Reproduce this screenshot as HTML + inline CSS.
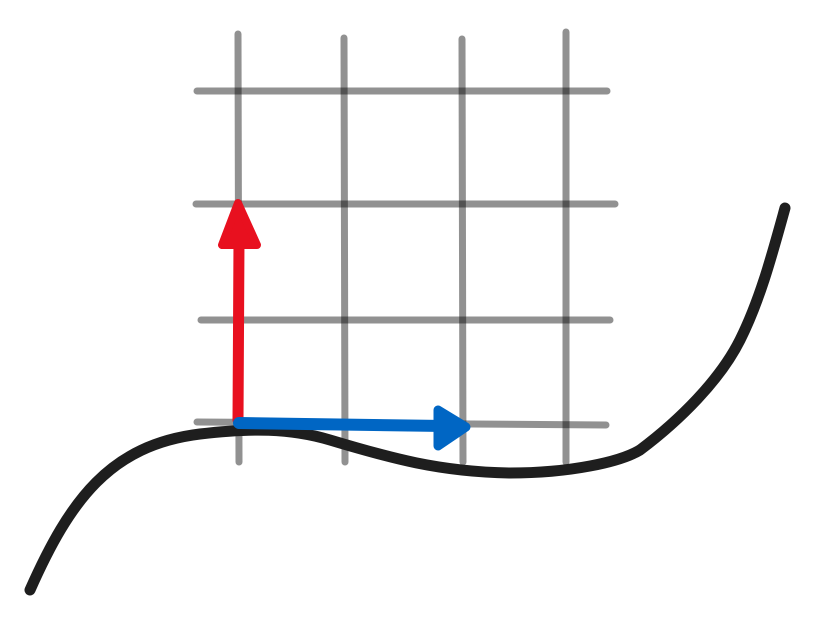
<!DOCTYPE html>
<html><head><meta charset="utf-8"><style>html,body{margin:0;padding:0;background:#fff;width:838px;height:624px;overflow:hidden}</style></head>
<body>
<svg width="838" height="624" viewBox="0 0 838 624">
<g stroke="#000" stroke-opacity="0.43" stroke-width="7" stroke-linecap="round">
<line x1="238" y1="34" x2="239" y2="462"/>
<line x1="344" y1="38" x2="345" y2="462"/>
<line x1="462" y1="39" x2="463" y2="462"/>
<line x1="566" y1="32" x2="566" y2="462"/>
<line x1="197" y1="91" x2="607" y2="91"/>
<line x1="196" y1="204" x2="615" y2="204"/>
<line x1="201" y1="320" x2="610" y2="320"/>
<line x1="197" y1="422" x2="606" y2="425"/>
</g>
<path d="M30,590 C70,500 110,445 200,434 C250,428 290,428 330,440 C390,458 440,472 510,473 C570,473 620,462 640,450 C680,420 720,380 740,340 C760,300 772,255 785,208" fill="none" stroke="#1e1e1e" stroke-width="11" stroke-linecap="round" stroke-linejoin="round"/>
<g>
<line x1="238" y1="420" x2="239" y2="240" stroke="#e8101f" stroke-width="11" stroke-linecap="round"/>
<polygon points="238,203 222,245 257,245" fill="#e8101f" stroke="#e8101f" stroke-width="8" stroke-linejoin="round"/>
</g>
<g>
<line x1="239" y1="423" x2="445" y2="426" stroke="#0066c4" stroke-width="12" stroke-linecap="round"/>
<polygon points="438,410 438,446 466,427" fill="#0066c4" stroke="#0066c4" stroke-width="9" stroke-linejoin="round"/>
</g>
</svg>
</body></html>
